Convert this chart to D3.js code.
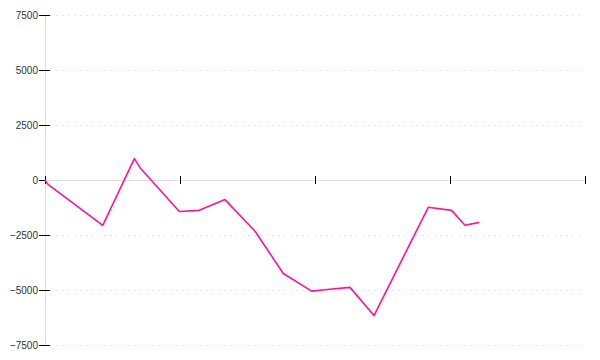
<!DOCTYPE html>
<html>
<head>
<meta charset="utf-8">
<script src="https://cdn.jsdelivr.net/npm/d3@7"></script>
<style>
  body { margin: 0; background: #fff; }
  svg { display: block; }
</style>
</head>
<body>
<script>
// dados
var xValues = [0, 0.022, 0.428, 0.662, 0.704, 0.995, 1.143, 1.333, 1.556, 1.765,
               1.975, 2.089, 2.259, 2.437, 2.839, 3.012, 3.111, 3.217];
var yValues = [0, -200, -2060, 970, 560, -1430, -1380, -890, -2330, -4250,
               -5050, -4980, -4880, -6160, -1240, -1380, -2060, -1925];
var yTicks = [-7500, -5000, -2500, 0, 2500, 5000, 7500];
var xTicks = [0, 1, 2, 3, 4];

var data = xValues.map(function(x, i) { return { x: x, y: yValues[i] }; });

var width = 600, height = 360;
var margin = { top: 15, right: 15, bottom: 15, left: 45 };

var svg = d3.select("body").append("svg")
    .attr("width", width)
    .attr("height", height);

var x = d3.scaleLinear()
    .domain([0, 4])
    .range([margin.left, width - margin.right]);

var y = d3.scaleLinear()
    .domain([-7500, 7500])
    .range([height - margin.bottom, margin.top]);

// linhas de grade
svg.append("g")
    .selectAll("line")
    .data(yTicks.filter(function(d) { return d !== 0; }))
    .join("line")
    .attr("x1", margin.left + 5)
    .attr("x2", width - margin.right - 2)
    .attr("y1", function(d) { return Math.round(y(d)) + 0.5; })
    .attr("y2", function(d) { return Math.round(y(d)) + 0.5; })
    .attr("stroke", "#e6e6e6")
    .attr("stroke-dasharray", "2,4");

// eixo Y
var yAxis = svg.append("g")
    .attr("transform", "translate(" + margin.left + ",0)")
    .call(d3.axisLeft(y).tickValues(yTicks).tickSize(6).tickPadding(1)
        .tickFormat(d3.format("d")));
yAxis.select(".domain").attr("stroke", "#ddd");
yAxis.selectAll(".tick line").attr("x1", 5).attr("stroke", "#000");
yAxis.selectAll(".tick text")
    .attr("fill", "#333")
    .style("font-family", "'Liberation Sans', Arial, sans-serif")
    .style("font-size", "10px");

// eixo X na linha do zero
var xAxis = svg.append("g")
    .attr("transform", "translate(0," + Math.round(y(0)) + ")")
    .call(d3.axisBottom(x).tickValues(xTicks).tickSize(4).tickFormat(""));
xAxis.select(".domain").attr("stroke", "#ddd").attr("d",
    "M" + x(0) + ",0.5H" + x(4));
xAxis.selectAll(".tick line").attr("y1", -4).attr("stroke", "#000");

// linha do grafico
svg.append("path")
    .datum(data)
    .attr("fill", "none")
    .attr("stroke", "#ff1493")
    .attr("stroke-width", 1.6)
    .attr("stroke-linejoin", "round")
    .attr("d", d3.line()
        .x(function(d) { return x(d.x); })
        .y(function(d) { return y(d.y); }));
</script>
</body>
</html>
